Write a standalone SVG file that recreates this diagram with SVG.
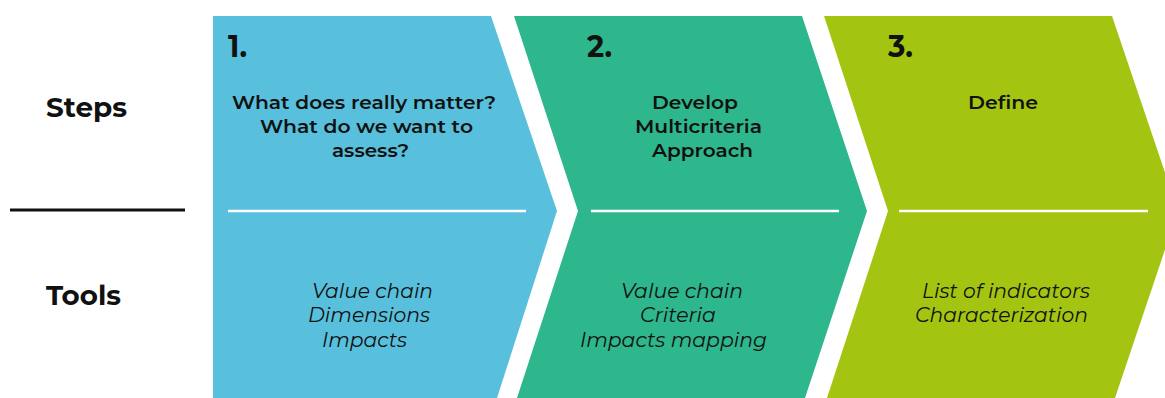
<svg xmlns="http://www.w3.org/2000/svg" width="1165" height="398" viewBox="0 0 1165 398">
<style>
text{font-family:"Montserrat","Open Sans","Noto Sans",sans-serif;fill:#111;}
.hdr{font-size:28px;font-weight:700;}
.num{font-size:30px;font-weight:700;}
.ttl{font-size:19px;font-weight:600;}
.tool{font-size:20px;font-style:italic;font-weight:400;}
.sep{stroke:#fff;stroke-width:2.5;}
</style>
<rect width="1165" height="398" fill="#fff"/>
<g id="labels">
<text class="hdr" x="46" y="117" textLength="81" lengthAdjust="spacingAndGlyphs">Steps</text>
<text class="hdr" x="46" y="305" textLength="75" lengthAdjust="spacingAndGlyphs">Tools</text>
<line x1="10" y1="210" x2="185" y2="210" stroke="#111" stroke-width="3"/>
</g>
<g id="step1">
<polygon points="213,16 491,16 557,211 497,398 213,398" fill="#58C0DC"/>
<line class="sep" x1="228" y1="211" x2="526" y2="211"/>
<text class="num" x="228" y="57" textLength="19" lengthAdjust="spacingAndGlyphs">1.</text>
<text class="ttl" x="232" y="109" textLength="264" lengthAdjust="spacingAndGlyphs">What does really matter?</text>
<text class="ttl" x="260" y="133" textLength="213" lengthAdjust="spacingAndGlyphs">What do we want to</text>
<text class="ttl" x="332" y="157" textLength="77" lengthAdjust="spacingAndGlyphs">assess?</text>
<text class="tool" x="312" y="298" textLength="121" lengthAdjust="spacingAndGlyphs">Value chain</text>
<text class="tool" x="308" y="322" textLength="122" lengthAdjust="spacingAndGlyphs">Dimensions</text>
<text class="tool" x="322" y="347" textLength="85" lengthAdjust="spacingAndGlyphs">Impacts</text>
</g>
<g id="step2">
<polygon points="514,16 802,16 867,211 805,398 517,398 578,211" fill="#2EB68C"/>
<line class="sep" x1="591" y1="211" x2="839" y2="211"/>
<text class="num" x="587" y="57" textLength="25" lengthAdjust="spacingAndGlyphs">2.</text>
<text class="ttl" x="652" y="109" textLength="86" lengthAdjust="spacingAndGlyphs">Develop</text>
<text class="ttl" x="635" y="133" textLength="127" lengthAdjust="spacingAndGlyphs">Multicriteria</text>
<text class="ttl" x="652" y="157" textLength="101" lengthAdjust="spacingAndGlyphs">Approach</text>
<text class="tool" x="621" y="298" textLength="122" lengthAdjust="spacingAndGlyphs">Value chain</text>
<text class="tool" x="640" y="322" textLength="76" lengthAdjust="spacingAndGlyphs">Criteria</text>
<text class="tool" x="580" y="347" textLength="187" lengthAdjust="spacingAndGlyphs">Impacts mapping</text>
</g>
<g id="step3">
<polygon points="824,16 1112,16 1178,211 1115,398 827,398 888,211" fill="#A3C511"/>
<line class="sep" x1="899" y1="211" x2="1148" y2="211"/>
<text class="num" x="888" y="57" textLength="25" lengthAdjust="spacingAndGlyphs">3.</text>
<text class="ttl" x="968" y="109" textLength="70" lengthAdjust="spacingAndGlyphs">Define</text>
<text class="tool" x="922" y="298" textLength="168" lengthAdjust="spacingAndGlyphs">List of indicators</text>
<text class="tool" x="915" y="322" textLength="173" lengthAdjust="spacingAndGlyphs">Characterization</text>
</g>
<g id="connectors"></g>
</svg>
